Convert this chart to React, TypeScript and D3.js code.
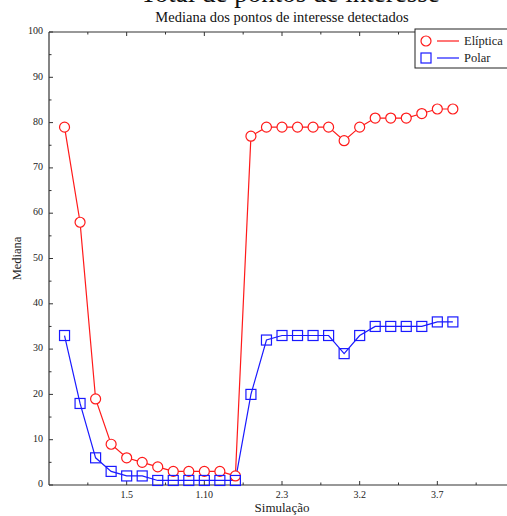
import { useMemo } from "react";
import * as d3 from "d3";

const WIDTH = 507;
const HEIGHT = 516;
// plot box; the right part runs past the visible window like in the reference
const MARGIN = { top: 32, left: 49, bottom: 31 };
const PLOT_RIGHT = 515;

const FONT = "'Liberation Serif', 'DejaVu Serif', serif";

const simulations = [
  "1.1", "1.2", "1.3", "1.4", "1.5", "1.6", "1.7", "1.8", "1.9", "1.10", "1.11", "1.12",
  "2.1", "2.2", "2.3", "2.4", "2.5", "2.6",
  "3.1", "3.2", "3.3", "3.4", "3.5", "3.6", "3.7", "3.8",
];
const eliptica = [79, 58, 19, 9, 6, 5, 4, 3, 3, 3, 3, 2, 77, 79, 79, 79, 79, 79, 76, 79, 81, 81, 81, 82, 83, 83];
const polar = [33, 18, 6, 3, 2, 2, 1, 1, 1, 1, 1, 1, 20, 32, 33, 33, 33, 33, 29, 33, 35, 35, 35, 35, 36, 36];

const xMajor = [5, 10, 15, 20, 25];
const xMinor = [2.5, 7.5, 12.5, 17.5, 22.5, 27.5];
const yMajor = [0, 10, 20, 30, 40, 50, 60, 70, 80, 90, 100];
const yMinor = [5, 15, 25, 35, 45, 55, 65, 75, 85, 95];

const RED = "#ff1a1a";
const BLUE = "#1a1aff";

export default function App() {
  const bottom = HEIGHT - MARGIN.bottom;

  const xScale = useMemo(
    () => d3.scaleLinear().domain([0, 30]).range([MARGIN.left, PLOT_RIGHT]),
    []
  );
  const yScale = useMemo(
    () => d3.scaleLinear().domain([0, 100]).range([bottom, MARGIN.top]),
    []
  );

  const line = d3
    .line<number>()
    .x((_, i) => xScale(i + 1))
    .y((d) => yScale(d));

  // tick label for a position = simulation name of that point
  const xLabel = (v: number) => simulations[v - 1];

  const axisColor = "#333";

  return (
    <svg
      width={WIDTH}
      height={HEIGHT}
      style={{ position: "absolute", left: 0, top: 0, background: "white" }}
      fontFamily={FONT}
    >
      {/* big heading, cut off by the window */}
      <text x={290} y={2} textAnchor="middle" fontSize={27} fill="#111">
        Total de pontos de interesse
      </text>
      <text x={282} y={22} textAnchor="middle" fontSize={14.5} fill="#111">
        Mediana dos pontos de interesse detectados
      </text>

      {/* axes box */}
      <line x1={MARGIN.left} x2={MARGIN.left} y1={MARGIN.top} y2={bottom} stroke={axisColor} strokeWidth={1.2} />
      <line x1={MARGIN.left} x2={PLOT_RIGHT} y1={bottom} y2={bottom} stroke={axisColor} strokeWidth={1.2} />
      <line x1={MARGIN.left} x2={PLOT_RIGHT} y1={MARGIN.top} y2={MARGIN.top} stroke={axisColor} strokeWidth={1.2} />

      {/* x ticks */}
      {xMajor.map((v) => (
        <g key={"xm" + v}>
          <line x1={xScale(v)} x2={xScale(v)} y1={bottom} y2={bottom - 4} stroke={axisColor} />
          <line x1={xScale(v)} x2={xScale(v)} y1={MARGIN.top} y2={MARGIN.top + 4} stroke={axisColor} />
          <text x={xScale(v)} y={bottom + 13} textAnchor="middle" fontSize={10} fill="#222">
            {xLabel(v)}
          </text>
        </g>
      ))}
      {xMinor.map((v) => (
        <g key={"xn" + v}>
          <line x1={xScale(v)} x2={xScale(v)} y1={bottom} y2={bottom - 2.5} stroke={axisColor} />
          <line x1={xScale(v)} x2={xScale(v)} y1={MARGIN.top} y2={MARGIN.top + 2.5} stroke={axisColor} />
        </g>
      ))}

      {/* y ticks */}
      {yMajor.map((v) => (
        <g key={"ym" + v}>
          <line x1={MARGIN.left} x2={MARGIN.left + 4} y1={yScale(v)} y2={yScale(v)} stroke={axisColor} />
          <text x={MARGIN.left - 6} y={yScale(v)} textAnchor="end" dominantBaseline="middle" fontSize={10} fill="#222">
            {v}
          </text>
        </g>
      ))}
      {yMinor.map((v) => (
        <line key={"yn" + v} x1={MARGIN.left} x2={MARGIN.left + 2.5} y1={yScale(v)} y2={yScale(v)} stroke={axisColor} />
      ))}

      {/* axis titles */}
      <text x={282} y={512} textAnchor="middle" fontSize={13} fill="#222">
        Simulação
      </text>
      <text
        transform={`translate(21,${(MARGIN.top + bottom) / 2}) rotate(-90)`}
        textAnchor="middle"
        fontSize={12.5}
        fill="#222"
      >
        Mediana
      </text>

      {/* series */}
      <path d={line(eliptica) ?? ""} fill="none" stroke={RED} strokeWidth={1.2} />
      <path d={line(polar) ?? ""} fill="none" stroke={BLUE} strokeWidth={1.2} />
      {eliptica.map((d, i) => (
        <circle key={"e" + i} cx={xScale(i + 1)} cy={yScale(d)} r={5} fill="white" stroke={RED} strokeWidth={1.2} />
      ))}
      {polar.map((d, i) => (
        <rect
          key={"p" + i}
          x={xScale(i + 1) - 5}
          y={yScale(d) - 5}
          width={10}
          height={10}
          fill="white"
          fillOpacity={0}
          stroke={BLUE}
          strokeWidth={1.2}
        />
      ))}

      {/* legend */}
      <g>
        <rect x={415} y={29} width={98} height={39} fill="white" stroke="#222" strokeWidth={1} />
        <circle cx={426} cy={41} r={5} fill="white" stroke={RED} strokeWidth={1.2} />
        <line x1={437} x2={459} y1={41} y2={41} stroke={RED} strokeWidth={1.2} />
        <text x={464} y={45} fontSize={12.5} fill="#222">Elíptica</text>
        <rect x={421} y={53} width={10} height={10} fill="none" stroke={BLUE} strokeWidth={1.2} />
        <line x1={437} x2={459} y1={58} y2={58} stroke={BLUE} strokeWidth={1.2} />
        <text x={464} y={62} fontSize={12.5} fill="#222">Polar</text>
      </g>
    </svg>
  );
}
